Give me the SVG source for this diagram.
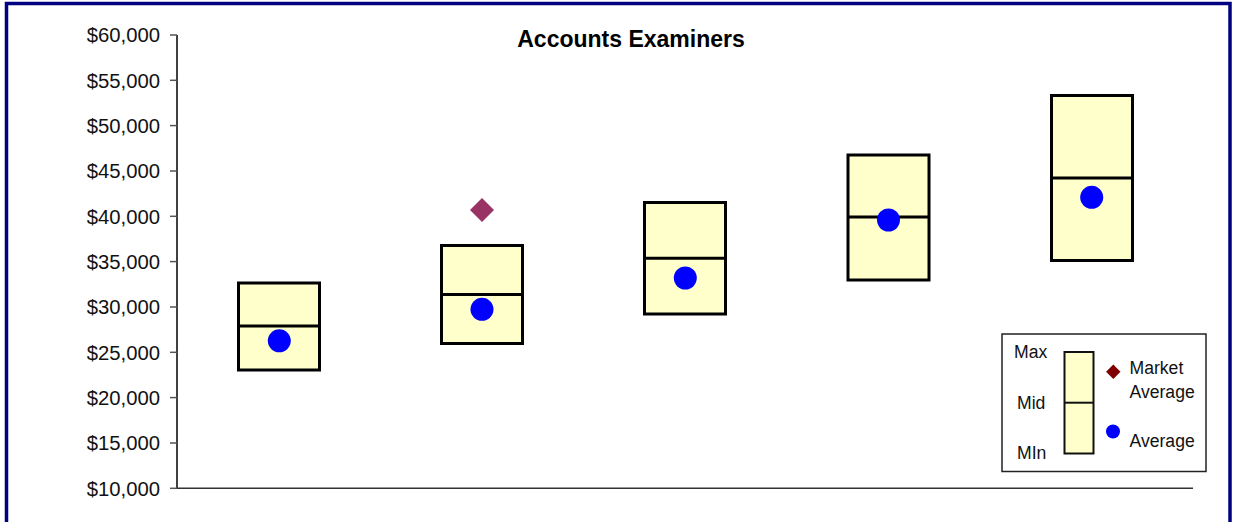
<svg xmlns="http://www.w3.org/2000/svg" width="1233" height="522" viewBox="0 0 1233 522">
<style>
.lbl{font-family:"Liberation Sans",Arial,sans-serif;font-size:20.3px;fill:#111;text-anchor:end}
.title{font-family:"Liberation Sans",Arial,sans-serif;font-size:23px;font-weight:bold;fill:#000;text-anchor:middle}
.leg{font-family:"Liberation Sans",Arial,sans-serif;font-size:17.6px;fill:#111}
.box{fill:#FFFFCC;stroke:#000;stroke-width:3}
.mid{stroke:#000;stroke-width:3}
.dot{fill:#0000FF}
.tick{stroke:#555;stroke-width:1.5}
</style>
<rect x="0" y="0" width="1233" height="522" fill="#fff"/>
<rect x="6.5" y="3.5" width="1223.5" height="530" fill="none" stroke="#000080" stroke-width="3.5"/>
<text class="title" x="631" y="46.5">Accounts Examiners</text>
<g id="axes">
<line x1="177" y1="35" x2="177" y2="488.5" stroke="#000" stroke-width="1.5"/>
<line x1="177" y1="488.3" x2="1193" y2="488.3" stroke="#333" stroke-width="1.5"/>
<g class="tick">
<line x1="170" y1="35" x2="177" y2="35"/>
<line x1="170" y1="80.3" x2="177" y2="80.3"/>
<line x1="170" y1="125.6" x2="177" y2="125.6"/>
<line x1="170" y1="171" x2="177" y2="171"/>
<line x1="170" y1="216.3" x2="177" y2="216.3"/>
<line x1="170" y1="261.6" x2="177" y2="261.6"/>
<line x1="170" y1="307" x2="177" y2="307"/>
<line x1="170" y1="352.3" x2="177" y2="352.3"/>
<line x1="170" y1="397.6" x2="177" y2="397.6"/>
<line x1="170" y1="443" x2="177" y2="443"/>
<line x1="170" y1="488.3" x2="177" y2="488.3"/>
</g>
<text class="lbl" x="160" y="42.3">$60,000</text>
<text class="lbl" x="160" y="87.6">$55,000</text>
<text class="lbl" x="160" y="132.9">$50,000</text>
<text class="lbl" x="160" y="178.3">$45,000</text>
<text class="lbl" x="160" y="223.6">$40,000</text>
<text class="lbl" x="160" y="268.9">$35,000</text>
<text class="lbl" x="160" y="314.3">$30,000</text>
<text class="lbl" x="160" y="359.6">$25,000</text>
<text class="lbl" x="160" y="404.9">$20,000</text>
<text class="lbl" x="160" y="450.3">$15,000</text>
<text class="lbl" x="160" y="495.6">$10,000</text>
</g>
<g id="range1">
<rect class="box" x="238.5" y="283" width="81" height="87"/>
<line class="mid" x1="238.5" y1="326" x2="319.5" y2="326"/>
<circle class="dot" cx="279.3" cy="340.8" r="11.5"/>
</g>
<g id="range2">
<rect class="box" x="441.5" y="245.5" width="81" height="98"/>
<line class="mid" x1="441.5" y1="294.5" x2="522.5" y2="294.5"/>
<circle class="dot" cx="482" cy="309.3" r="11.5"/>
<polygon points="482,198 494,210 482,222 470,210" fill="#993366"/>
</g>
<g id="range3">
<rect class="box" x="644.5" y="202.5" width="81" height="111.5"/>
<line class="mid" x1="644.5" y1="258.3" x2="725.5" y2="258.3"/>
<circle class="dot" cx="685.3" cy="278" r="11.5"/>
</g>
<g id="range4">
<rect class="box" x="848" y="155" width="81" height="125"/>
<line class="mid" x1="848" y1="217" x2="929" y2="217"/>
<circle class="dot" cx="888.5" cy="220" r="11.5"/>
</g>
<g id="range5">
<rect class="box" x="1051.5" y="95.5" width="81" height="165"/>
<line class="mid" x1="1051.5" y1="178" x2="1132.5" y2="178"/>
<circle class="dot" cx="1091.7" cy="197.3" r="11.5"/>
</g>
<g id="legend">
<rect x="1002" y="334" width="204" height="137.5" fill="#fff" stroke="#222" stroke-width="1.5"/>
<rect x="1064.5" y="352" width="29" height="101.5" fill="#FFFFCC" stroke="#111" stroke-width="2"/>
<line x1="1064.5" y1="402.7" x2="1093.5" y2="402.7" stroke="#111" stroke-width="2"/>
<text class="leg" x="1014" y="358">Max</text>
<text class="leg" x="1017" y="408.5">Mid</text>
<text class="leg" x="1017" y="459">MIn</text>
<polygon points="1113.3,364.5 1120.5,371.7 1113.3,378.9 1106.1,371.7" fill="#800000"/>
<circle cx="1113" cy="431.5" r="7" fill="#0000FF"/>
<text class="leg" x="1129.5" y="373.5">Market</text>
<text class="leg" x="1129.5" y="398">Average</text>
<text class="leg" x="1129.5" y="447">Average</text>
</g>
</svg>
